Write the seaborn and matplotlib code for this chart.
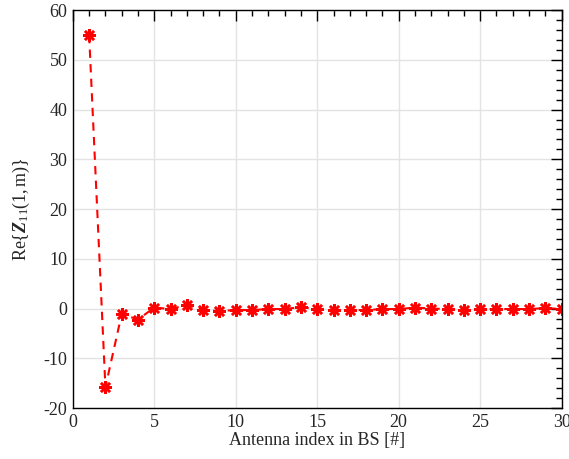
import matplotlib
matplotlib.use("Agg")
import matplotlib.pyplot as plt
from matplotlib.ticker import MultipleLocator
import numpy as np
import pandas as pd
import seaborn as sns

antenna = list(range(1, 31))
re_z = [55.0, -15.8, -1.1, -2.2, 0.2, -0.1, 0.7, -0.3, -0.5, -0.3,
        -0.3, -0.1, -0.1, 0.3, -0.1, -0.3, -0.3, -0.3, -0.1, -0.1,
        0.2, 0.0, -0.1, -0.3, -0.1, -0.1, -0.1, -0.1, 0.1, -0.1]

df = pd.DataFrame({"m": antenna, "re": re_z})

sns.set_style("white")
plt.rcParams["font.family"] = ["Liberation Serif", "DejaVu Serif"]
plt.rcParams["axes.unicode_minus"] = False
plt.rcParams["mathtext.fontset"] = "custom"
plt.rcParams["mathtext.rm"] = "Liberation Serif"
plt.rcParams["mathtext.it"] = "Liberation Serif:italic"
plt.rcParams["mathtext.bf"] = "Liberation Serif:bold:italic"

fig = plt.figure(figsize=(5.69, 4.59), dpi=100)
ax = fig.add_axes([0.128, 0.111, 0.859, 0.867])

sns.lineplot(data=df, x="m", y="re", ax=ax, color="red", linestyle="--",
             dashes=False, linewidth=1.5, marker=(8, 2, 0), markersize=9,
             markeredgewidth=1.8, markeredgecolor="red")
ax.lines[0].set_dashes((4, 3))

ax.set_xlim(0, 30)
ax.set_ylim(-20, 60)
ax.xaxis.set_major_locator(MultipleLocator(5))
ax.xaxis.set_minor_locator(MultipleLocator(1))
ax.yaxis.set_major_locator(MultipleLocator(10))
ax.yaxis.set_minor_locator(MultipleLocator(2))
ax.grid(True, which="major", color="#e3e3e3", linewidth=1)
ax.set_axisbelow(True)
ax.tick_params(which="both", direction="in", top=True, right=True,
               labelsize=13, color="black", pad=4)
ax.tick_params(which="major", length=8, width=1)
ax.tick_params(which="minor", length=4, width=1)
for s in ax.spines.values():
    s.set_color("black")
    s.set_linewidth(1)

ax.set_xlabel("Antenna index in BS [#]", fontsize=13, labelpad=1)
ax.set_ylabel(r"Re$\{\mathbf{Z}_{11}(1,\mathrm{m})\}$", fontsize=13, labelpad=8)

fig.savefig("out.png", dpi=100)
